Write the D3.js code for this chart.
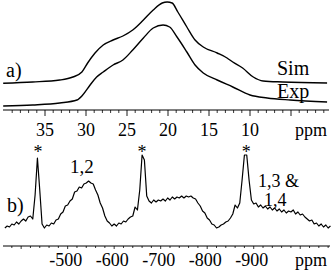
<!DOCTYPE html>
<html><head><meta charset="utf-8">
<script src="https://cdn.jsdelivr.net/npm/d3@7"></script>
<style>html,body{margin:0;padding:0;background:#fff;overflow:hidden}</style>
</head><body>
<script>
// ---- Panel a) spectrum (ppm vs intensity, arbitrary units)
const simPpm = [40.1,36.5,33.2,31.6,30.5,29.8,28.9,27.9,26.7,25.5,24.3,23.0,21.8,20.7,20.1,19.5,18.8,17.7,16.7,15.7,14.0,12.8,12.1,10.9,9.6,8.4,6.0,0.6];
const simVal = [0.3,1.5,3.5,6.5,11.5,20.5,30.5,38.5,43.5,47.5,53.5,63.5,73.5,80.5,81.5,80.5,71.5,56.5,43.5,36.5,30.5,25.5,21.5,15.5,6.5,2.5,1.5,0.5];
const expPpm = [40.1,36.5,33.2,31.1,30.4,29.5,28.7,27.9,26.7,25.5,24.3,23.0,21.8,20.6,19.8,18.9,17.7,16.7,15.7,14.0,12.1,10.0,7.9,5.1,0.6];
const expVal = [0,1,3,6,11,21,29,34,41,46,56,68,78,81,79,69,54,41,33,26,19,11,8,6,4];
const topTickLabels = [35,30,25,20,15,10];

// ---- Panel b) spectrum, ppm grid from -365 in steps of -5
const bStart = -365, bStep = -5;
const bVal = [4,6,5,8,7,10,8,11,13,11,15,16,13,37,74,42,8,4,7,6,9,8,12,13,18,20,26,27,31,33,40,41,45,44,48,49,51,49,48,42,37,29,24,16,11,9,6,8,6,9,8,11,10,13,15,16,25,22,42,77,72,36,31,29,32,30,32,31,33,31,34,32,35,33,35,34,36,34,36,35,36,34,33,29,26,21,19,14,12,8,7,4,5,7,8,10,11,14,18,27,24,29,52,77,77,52,32,28,29,25,27,24,26,23,25,22,24,21,23,20,22,19,21,20,22,18,20,17,18,15,13,11,12,8,9,6,8,5,7,4,6];
const bTickLabels = [-500,-600,-700,-800,-900];

const FONT = "Liberation Serif";
const W = 332, H = 271;
const svg = d3.select("body").append("svg").attr("width", W).attr("height", H);
function label(sel) { return sel.attr("font-family", FONT).attr("fill", "#000"); }

// ----- top panel
const xA = d3.scaleLinear().domain([40, 0]).range([4, 332]);
const yA = d3.scaleLinear().domain([0, 100]).range([0, -100]);
const simOffset = 83.5, expOffset = 106;
const lineA = d3.line().x(d => xA(d[0])).y(d => yA(d[1])).curve(d3.curveMonotoneX);

svg.append("path").datum(d3.zip(simPpm, simVal))
  .attr("transform", `translate(0,${simOffset})`)
  .attr("d", lineA).attr("fill", "none").attr("stroke", "#000").attr("stroke-width", 1.4);
svg.append("path").datum(d3.zip(expPpm, expVal))
  .attr("transform", `translate(0,${expOffset})`)
  .attr("d", lineA).attr("fill", "none").attr("stroke", "#000").attr("stroke-width", 1.4);

const axisAy = 110;
const gA = svg.append("g").attr("transform", `translate(0,${axisAy})`);
gA.append("line").attr("x1", 3).attr("x2", 329).attr("stroke", "#000").attr("stroke-width", 1);
const minorA = d3.range(1, 40).filter(v => v % 5 !== 0);
const majorA = d3.range(5, 40, 5);
gA.selectAll(".mi").data(minorA).join("line")
  .attr("x1", d => xA(d)).attr("x2", d => xA(d)).attr("y1", 0).attr("y2", 3)
  .attr("stroke", "#000").attr("stroke-width", 0.8);
gA.selectAll(".ma").data(majorA).join("line")
  .attr("x1", d => xA(d)).attr("x2", d => xA(d)).attr("y1", 0).attr("y2", 6)
  .attr("stroke", "#000").attr("stroke-width", 0.9);
label(gA.selectAll(".tl").data(topTickLabels).join("text"))
  .attr("x", d => xA(d)).attr("y", 26).attr("text-anchor", "middle")
  .attr("font-size", 18).text(d => d);
label(gA.append("text")).attr("x", 311).attr("y", 26).attr("text-anchor", "middle")
  .attr("font-size", 18).text("ppm");

label(svg.append("text")).attr("x", 6).attr("y", 77).attr("font-size", 20).text("a)");
label(svg.append("text")).attr("x", 277).attr("y", 75).attr("font-size", 20).text("Sim");
label(svg.append("text")).attr("x", 277).attr("y", 98).attr("font-size", 20).text("Exp");

// ----- bottom panel
const xB = d3.scaleLinear().domain([-361, -1064]).range([3, 330]);
const yB = d3.scaleLinear().domain([0, 80]).range([232, 152]);
const bData = bVal.map((v, i) => [bStart + i * bStep, v]);
const lineB = d3.line().x(d => xB(d[0])).y(d => yB(d[1]));
svg.append("path").datum(bData).attr("d", lineB)
  .attr("fill", "none").attr("stroke", "#000").attr("stroke-width", 1.2).attr("stroke-linejoin", "round");

const axisBy = 246;
const gB = svg.append("g").attr("transform", `translate(0,${axisBy})`);
gB.append("line").attr("x1", 3).attr("x2", 330).attr("stroke", "#000").attr("stroke-width", 1);
const ticksB = d3.range(-380, -1061, -20);
gB.selectAll(".tb").data(ticksB).join("line")
  .attr("x1", d => xB(d)).attr("x2", d => xB(d)).attr("y1", 0).attr("y2", d => d % 100 === 0 ? 3 : 2)
  .attr("stroke", "#000").attr("stroke-width", 0.8);
label(gB.selectAll(".bl").data(bTickLabels).join("text"))
  .attr("x", d => xB(d) - 2).attr("y", 20).attr("text-anchor", "middle")
  .attr("font-size", 18).text(d => d);
label(gB.append("text")).attr("x", 311).attr("y", 20).attr("text-anchor", "middle")
  .attr("font-size", 18).text("ppm");

label(svg.append("text")).attr("x", 7).attr("y", 212).attr("font-size", 20).text("b)");
const stars = [-436, -660, -884];
label(svg.selectAll(".star").data(stars).join("text"))
  .attr("x", d => xB(d)).attr("y", 158).attr("text-anchor", "middle")
  .attr("font-size", 18).text("*");
label(svg.append("text")).attr("x", 70).attr("y", 173).attr("font-size", 19).text("1,2");
label(svg.append("text")).attr("x", 258).attr("y", 187).attr("font-size", 18).text("1,3 &");
label(svg.append("text")).attr("x", 264).attr("y", 206).attr("font-size", 18).text("1,4");
</script>
</body></html>
